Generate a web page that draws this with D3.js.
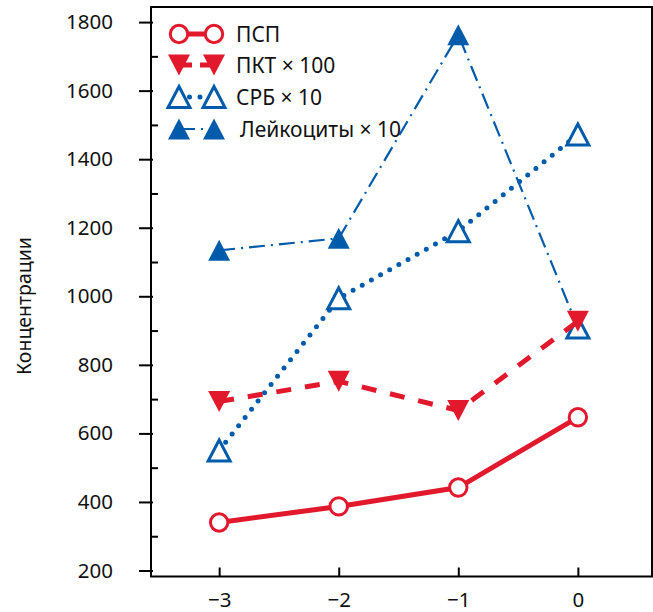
<!DOCTYPE html>
<html>
<head>
  <meta charset="utf-8">
  <script src="https://d3js.org/d3.v7.min.js"></script>
  <style type="text/css">
    body { margin: 0; background: #fff; }
    text { font-family: "Noto Sans", sans-serif; fill: #111; }
  </style>
</head>
<body>
<script type="text/javascript">
  // data
  var days = [-3, -2, -1, 0];
  var psp = [340, 387, 442, 647];          // ПСП
  var pkt = [693, 752, 667, 927];          // ПКТ x 100
  var crp = [550, 994, 1190, 1472];        // СРБ x 10
  var leuk = [1134, 1169, 1763, 909];      // Лейкоциты x 10
  var leukFilled = [true, true, true, false];
  var yMajor = [200, 400, 600, 800, 1000, 1200, 1400, 1600, 1800];
  var yMinor = [300, 500, 700, 900, 1100, 1300, 1500, 1700];
  var xTicks = [-3, -2, -1, 0];

  var red = "#e2192c",
      blue = "#005bab";

  var width = 653,
      height = 612;

  var svg = d3.select("body").append("svg")
      .attr("width", width)
      .attr("height", height);

  var x = d3.scaleLinear().domain([-3.57, 0.62]).range([151, 652]);
  var y = d3.scaleLinear().domain([182.5, 1844]).range([576.5, 7]);

  // frame
  svg.append("path")
    .attr("d", "M151,7H652V576.5H151Z")
    .attr("fill", "none")
    .attr("stroke", "#000")
    .attr("stroke-width", 2);

  // y axis, major ticks cross the axis line
  var yAxis = svg.append("g")
    .attr("transform", "translate(151,0)")
    .call(d3.axisLeft(y).tickValues(yMajor).tickSize(12).tickPadding(26)
      .tickFormat(d3.format("d")));
  yAxis.select(".domain").remove();
  yAxis.selectAll("line").attr("x1", 2).attr("stroke-width", 2);
  yAxis.selectAll("text").style("font-size", "20.5px").attr("fill", "#111");

  // minor ticks pointing inside
  var yMinorAxis = svg.append("g")
    .attr("transform", "translate(151,0)")
    .call(d3.axisRight(y).tickValues(yMinor).tickSize(7).tickFormat(""));
  yMinorAxis.select(".domain").remove();
  yMinorAxis.selectAll("line").attr("stroke-width", 2);

  // x axis, ticks inside
  var xAxis = svg.append("g")
    .attr("transform", "translate(0,576.5)")
    .call(d3.axisTop(x).tickValues(xTicks).tickSize(9)
      .tickFormat(function (d) { return d < 0 ? "\u2212" + Math.abs(d) : d; }));
  xAxis.select(".domain").remove();
  xAxis.selectAll("line").attr("stroke-width", 2);
  xAxis.selectAll("text")
    .attr("y", 30)
    .attr("dy", 0)
    .style("font-size", "20.5px")
    .attr("fill", "#111");

  svg.append("text")
    .attr("transform", "translate(31,306) rotate(-90)")
    .attr("text-anchor", "middle")
    .style("font-size", "19.5px")
    .text("Концентрации");

  // marker shapes
  var triUp = "M0,-10.5L11,10.5L-11,10.5Z",
      triDown = "M0,10.5L11,-10.5L-11,-10.5Z";

  var series = [
    { name: "Лейкоциты \u00d7 10", values: leuk, color: blue, width: 2.2, dash: "16,6,2,6", cap: "butt",
      marker: triUp, filled: leukFilled },
    { name: "СРБ \u00d7 10", values: crp, color: blue, width: 5, dash: "0,10.5", cap: "round",
      marker: triUp, filled: [false, false, false, false] },
    { name: "ПКТ \u00d7 100", values: pkt, color: red, width: 5, dash: "15,14", cap: "butt",
      marker: triDown, filled: [true, true, true, true] },
    { name: "ПСП", values: psp, color: red, width: 5, dash: null, cap: "butt",
      marker: "circle", filled: [false, false, false, false] }
  ];

  var line = d3.line()
    .x(function (d) { return x(d[0]); })
    .y(function (d) { return y(d[1]); });

  function drawMarker(g, shape, color, filled, cx, cy) {
    if (shape === "circle") {
      g.append("circle")
        .attr("cx", cx).attr("cy", cy).attr("r", 8.7)
        .attr("fill", filled ? color : "#fff")
        .attr("stroke", color)
        .attr("stroke-width", 3);
    } else {
      g.append("path")
        .attr("d", shape)
        .attr("transform", "translate(" + cx + "," + cy + ")")
        .attr("fill", filled ? color : "#fff")
        .attr("stroke", color)
        .attr("stroke-width", filled ? 0 : 3)
        .attr("stroke-linejoin", "miter");
    }
  }

  series.forEach(function (s) {
    var pts = days.map(function (d, i) { return [d, s.values[i]]; });
    var g = svg.append("g");
    g.append("path")
      .datum(pts)
      .attr("d", line)
      .attr("fill", "none")
      .attr("stroke", s.color)
      .attr("stroke-width", s.width)
      .attr("stroke-linecap", s.cap)
      .attr("stroke-dasharray", s.dash);
    pts.forEach(function (p, i) {
      drawMarker(g, s.marker, s.color, s.filled[i], x(p[0]), y(p[1]));
    });
  });

  // legend
  var legendRows = [series[3], series[2], series[1], series[0]];
  var legendY = [34, 65, 97, 129];
  legendRows.forEach(function (s, i) {
    var g = svg.append("g").attr("transform", "translate(0," + legendY[i] + ")");
    g.append("line")
      .attr("x1", 179).attr("x2", 214)
      .attr("stroke", s.color)
      .attr("stroke-width", s.width)
      .attr("stroke-linecap", s.cap)
      .attr("stroke-dasharray", s.dash ? (i === 1 ? "11,8" : s.dash) : null)
      .attr("stroke-dashoffset", i === 1 ? -2 : 0);
    drawMarker(g, s.marker, s.color, i === 3 ? true : s.filled[0], 179, 0);
    drawMarker(g, s.marker, s.color, i === 3 ? true : s.filled[0], 214, 0);
    g.append("text")
      .attr("x", i === 3 ? 240 : 236)
      .attr("y", 0)
      .attr("dy", "0.36em")
      .style("font-size", "21px")
      .text(s.name);
  });
</script>
</body>
</html>
